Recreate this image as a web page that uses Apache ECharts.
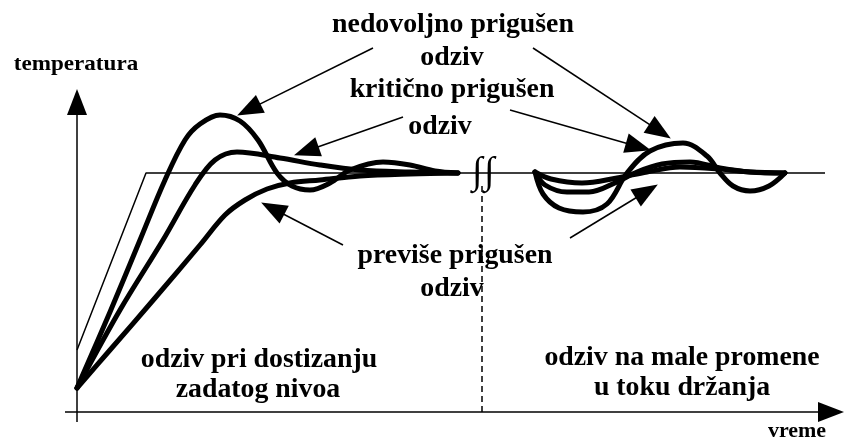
<!DOCTYPE html>
<html>
<head>
<meta charset="utf-8">
<script src="https://cdn.jsdelivr.net/npm/echarts@6/dist/echarts.min.js"></script>
<style>
  html, body { margin: 0; padding: 0; background: #fff; }
  #box { width: 844px; height: 441px; }
</style>
</head>
<body>
<div id="box"></div>
<script>
// zadata vrednost (tanka linija)
var setpoint = [[0, 62], [69, 239], [748, 239]];

// odziv pri dostizanju zadatog nivoa
var underReach = [[0, 24], [33, 100], [63, 172], [88, 232], [108, 272], [123, 288], [143, 297], [163, 291], [181, 272], [200, 239], [215, 226], [233, 222], [253, 229], [273, 242], [306, 250], [333, 247], [358, 241], [381, 239]];
var criticalReach = [[0, 24], [43, 102], [86, 172], [118, 227], [138, 252], [160, 260], [203, 254], [243, 247], [283, 242], [333, 240], [381, 239]];
var overReach = [[0, 24], [33, 62], [78, 114], [123, 167], [148, 197], [168, 212], [190, 223], [213, 229], [243, 232], [283, 236], [333, 238], [381, 239]];

// odziv na male promene u toku drzanja
var underHold = [[458, 240], [466, 218], [482, 204], [506, 200], [530, 208], [550, 239], [573, 261], [606, 269], [630, 256], [643, 239], [656, 226], [673, 221], [692, 226], [708, 239]];
var criticalHold = [[458, 240], [468, 227], [490, 220], [512, 220], [540, 230], [560, 240], [585, 248], [613, 250], [643, 244], [673, 240], [708, 239]];
var overHold = [[458, 240], [474, 233], [505, 229], [540, 234], [570, 240], [603, 245], [643, 243], [673, 240], [708, 239]];

// strelice: [pocetak, vrh]
var arrows = [
  [[296, 364], [161, 297]],
  [[456, 364], [593, 274]],
  [[326, 295], [218, 257]],
  [[433, 302], [573, 262]],
  [[266, 167], [185, 209]],
  [[493, 174], [580, 227]]
];
var breakTime = 405;

var myChart = echarts.init(document.getElementById('box'));

// pomeri kraj linije unazad da vrh trougla bude na zadatoj tacki
function back(p, q, d) {
  var dx = q[0] - p[0], dy = q[1] - p[1];
  var len = Math.sqrt(dx * dx + dy * dy);
  return [q[0] - dx / len * d, q[1] - dy / len * d];
}

var arrowLines = arrows.map(function (a) {
  return [{ coord: a[0] }, { coord: back(a[0], a[1], 12) }];
});

function label(text, x, y, size, sx, style) {
  return {
    type: 'text', x: x, y: y, scaleX: sx, silent: true,
    style: {
      text: text, fill: '#000', align: 'center', verticalAlign: 'middle',
      font: (style || 'normal') + ' bold ' + size + 'px "Liberation Serif", "Times New Roman", Times'
    }
  };
}

function curve(data) {
  return {
    type: 'line', data: data, smooth: 0.35, symbol: 'none', silent: true,
    lineStyle: { color: '#000', width: 5, cap: 'round', join: 'round' }
  };
}

var option = {
  animation: false,
  grid: { left: 0, right: 0, top: 0, bottom: 0 },
  xAxis: { type: 'value', min: -77, max: 767, show: false },
  yAxis: { type: 'value', min: -29, max: 412, show: false },
  series: [
    {
      type: 'line', data: setpoint, symbol: 'none', silent: true,
      lineStyle: { color: '#000', width: 1.5 },
      markLine: {
        silent: true, animation: false,
        symbol: ['none', 'triangle'], symbolSize: [20, 26],
        label: { show: false },
        lineStyle: { color: '#000', width: 1.5, type: 'solid' },
        data: arrowLines.concat([
          [{ coord: [-12, 0] }, { coord: [754, 0] }],
          [{ coord: [0, -10] }, { coord: [0, 310] }],
          [{ coord: [breakTime, 0], symbol: 'none' }, { coord: [breakTime, 229], symbol: 'none', lineStyle: { type: [6, 4] } }]
        ])
      }
    },
    curve(underReach), curve(criticalReach), curve(overReach),
    curve(underHold), curve(criticalHold), curve(overHold)
  ],
  graphic: [
    label('nedovoljno prigušen', 453, 25, 27, 1.03),
    label('odziv', 452, 58, 27, 1.03),
    label('kritično prigušen', 452, 90, 27, 1.03),
    label('odziv', 440, 127, 27, 1.03),
    label('previše prigušen', 455, 256, 27, 1.03),
    label('odziv', 452, 289, 27, 1.03),
    label('odziv pri dostizanju', 259, 360, 27, 1.03),
    label('zadatog nivoa', 258, 390, 27, 1.03),
    label('odziv na male promene', 682, 358, 27, 1.03),
    label('u toku držanja', 682, 388, 27, 1.03),
    label('temperatura', 76, 64, 22, 1.05),
    label('vreme', 797, 432, 20, 1.1),
    label('∫', 477, 173, 38, 1, 'italic'),
    label('∫', 489, 173, 38, 1, 'italic')
  ]
};

myChart.setOption(option);
</script>
</body>
</html>
